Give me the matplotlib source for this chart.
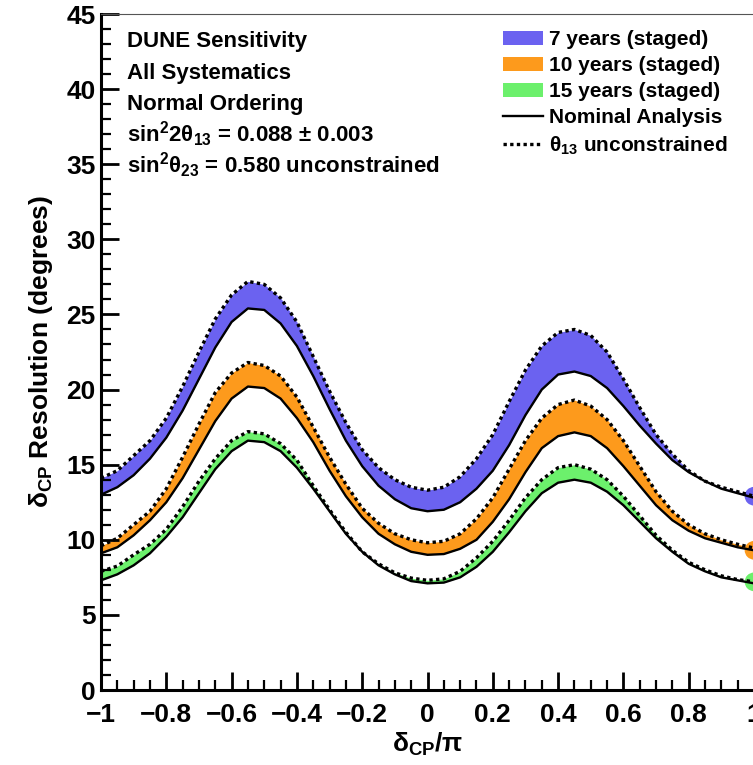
import numpy as np
import matplotlib.pyplot as plt
from matplotlib.patches import Patch
from matplotlib.lines import Line2D
from matplotlib.ticker import MultipleLocator

plt.rcParams['font.family'] = ['Liberation Sans', 'DejaVu Sans']
plt.rcParams['font.weight'] = 'bold'
plt.rcParams['axes.labelweight'] = 'bold'
plt.rcParams['mathtext.fontset'] = 'custom'
plt.rcParams['mathtext.rm'] = 'Liberation Sans:bold'
plt.rcParams['mathtext.it'] = 'Liberation Sans:bold'
plt.rcParams['mathtext.bf'] = 'Liberation Sans:bold'
plt.rcParams['mathtext.default'] = 'regular'

# delta_CP / pi grid
dcp = np.linspace(-1, 1, 41)

# 7 years (staged)
blue_nom = [13.0, 13.5, 14.3, 15.4, 16.8, 18.6, 20.7, 22.8, 24.5, 25.4, 25.3, 24.4, 22.9, 20.9, 18.7, 16.6, 14.9, 13.6, 12.7, 12.1, 11.9,
            12.0, 12.5, 13.4, 14.6, 16.3, 18.3, 20.0, 21.0, 21.2, 20.9, 20.1, 18.9, 17.6, 16.4, 15.3, 14.5, 13.9, 13.4, 13.1, 12.8]
blue_th13 = [14.1, 14.6, 15.6, 16.6, 18.1, 20.2, 22.5, 24.7, 26.3, 27.2, 27.0, 26.1, 24.5, 22.2, 19.9, 17.8, 16.0, 14.8, 14.0, 13.5, 13.3,
             13.5, 14.2, 15.4, 17.0, 19.2, 21.3, 22.9, 23.8, 24.0, 23.6, 22.5, 20.7, 18.8, 17.0, 15.7, 14.6, 13.9, 13.5, 13.2, 12.9]
# 10 years (staged)
orange_nom = [9.1, 9.5, 10.3, 11.3, 12.5, 14.1, 16.0, 17.9, 19.4, 20.2, 20.1, 19.4, 18.1, 16.5, 14.6, 12.9, 11.5, 10.4, 9.7, 9.2, 9.0,
              9.05, 9.4, 10.0, 11.2, 12.7, 14.5, 16.1, 16.9, 17.15, 16.9, 16.1, 14.9, 13.6, 12.3, 11.3, 10.6, 10.1, 9.8, 9.5, 9.3]
orange_th13 = [9.6, 10.1, 11.0, 11.9, 13.4, 15.5, 17.7, 19.8, 21.1, 21.8, 21.6, 20.9, 19.5, 17.5, 15.5, 13.7, 12.1, 11.1, 10.4, 10.0, 9.8,
               9.9, 10.4, 11.4, 12.8, 14.7, 16.6, 18.1, 19.0, 19.3, 18.9, 18.0, 16.6, 14.9, 13.2, 11.9, 11.0, 10.4, 10.0, 9.7, 9.45]
# 15 years (staged)
green_nom = [7.3, 7.7, 8.3, 9.1, 10.2, 11.5, 13.1, 14.7, 15.9, 16.6, 16.5, 15.9, 14.8, 13.4, 11.9, 10.4, 9.2, 8.3, 7.7, 7.25, 7.1,
             7.15, 7.5, 8.2, 9.2, 10.5, 11.9, 13.1, 13.8, 14.0, 13.8, 13.2, 12.3, 11.2, 10.1, 9.2, 8.4, 7.9, 7.5, 7.3, 7.1]
green_th13 = [7.9, 8.25, 9.0, 9.7, 10.7, 12.2, 13.9, 15.4, 16.6, 17.2, 17.05, 16.4, 15.3, 13.6, 12.0, 10.5, 9.2, 8.4, 7.8, 7.45, 7.3,
              7.4, 7.9, 8.8, 9.9, 11.3, 12.8, 14.0, 14.8, 15.0, 14.7, 14.0, 12.9, 11.6, 10.3, 9.3, 8.5, 8.0, 7.6, 7.35, 7.2]

labels = ['7 years (staged)', '10 years (staged)', '15 years (staged)']
colors = ['#6b62f0', '#fd9a1c', '#6cf06c']
end_points = [12.9, 9.3, 7.2]

info_lines = ['DUNE Sensitivity', 'All Systematics', 'Normal Ordering',
              'sin$^{2}$2θ$_{13}$ = 0.088 ± 0.003',
              'sin$^{2}$θ$_{23}$ = 0.580 unconstrained']

fig = plt.figure(figsize=(7.53, 7.65), dpi=100)
ax = fig.add_axes([101 / 753, 75 / 765, 653 / 753, 676 / 765])

bands = [(blue_nom, blue_th13), (orange_nom, orange_th13), (green_nom, green_th13)]
for (lo, hi), c in zip(bands, colors):
    ax.fill_between(dcp, lo, hi, color=c, lw=0, zorder=1)
    ax.plot(dcp, lo, color='black', lw=1.7, zorder=3)
    ax.plot(dcp, hi, color='black', lw=2.4, linestyle=(0, (1, 1.0)), zorder=3)

ax.scatter([1, 1, 1], end_points, s=180, c=colors, zorder=2, clip_on=True, lw=0)

ax.set_xlim(-1, 1)
ax.set_ylim(0, 45)
ax.xaxis.set_minor_locator(MultipleLocator(0.05))
ax.yaxis.set_major_locator(MultipleLocator(5))
ax.yaxis.set_minor_locator(MultipleLocator(1))
ax.set_xticks(np.linspace(-1, 1, 11))
ax.set_xticklabels(['−1', '−0.8', '−0.6', '−0.4', '−0.2', '0', '0.2', '0.4', '0.6', '0.8', '1'])

ax.tick_params(which='both', direction='in', top=False, right=False, labelsize=19)
ax.tick_params(which='major', length=13, width=2)
ax.tick_params(which='minor', length=7, width=1.6)
ax.tick_params(axis='y', pad=4)
ax.tick_params(axis='x', pad=9)

for s in ['left', 'bottom']:
    ax.spines[s].set_linewidth(2.2)
ax.spines['top'].set_linewidth(0.8)
ax.spines['top'].set_color('#555555')
ax.spines['right'].set_visible(False)

ax.set_xlabel('δ$_{CP}$/π', fontsize=19, labelpad=3)
ax.set_ylabel('δ$_{CP}$ Resolution (degrees)', fontsize=19, labelpad=8)

for i, line in enumerate(info_lines):
    ax.text(0.04, 0.951 - i * 31.5 / 676, line, transform=ax.transAxes,
            fontsize=16, va='baseline', ha='left')

handles = [Patch(facecolor=c, edgecolor='none') for c in colors]
handles += [Line2D([], [], color='black', lw=1.7),
            Line2D([], [], color='black', lw=2.4, linestyle=(0, (1, 1.0)))]
leg_labels = labels + ['Nominal Analysis', 'θ$_{13}$ unconstrained']
ax.legend(handles, leg_labels, loc='upper left', bbox_to_anchor=(0.6156, 0.976),
          frameon=False, fontsize=15, handlelength=1.9, handletextpad=0.3,
          labelspacing=0.34, borderpad=0, borderaxespad=0)

fig.savefig('out.png', dpi=100)
